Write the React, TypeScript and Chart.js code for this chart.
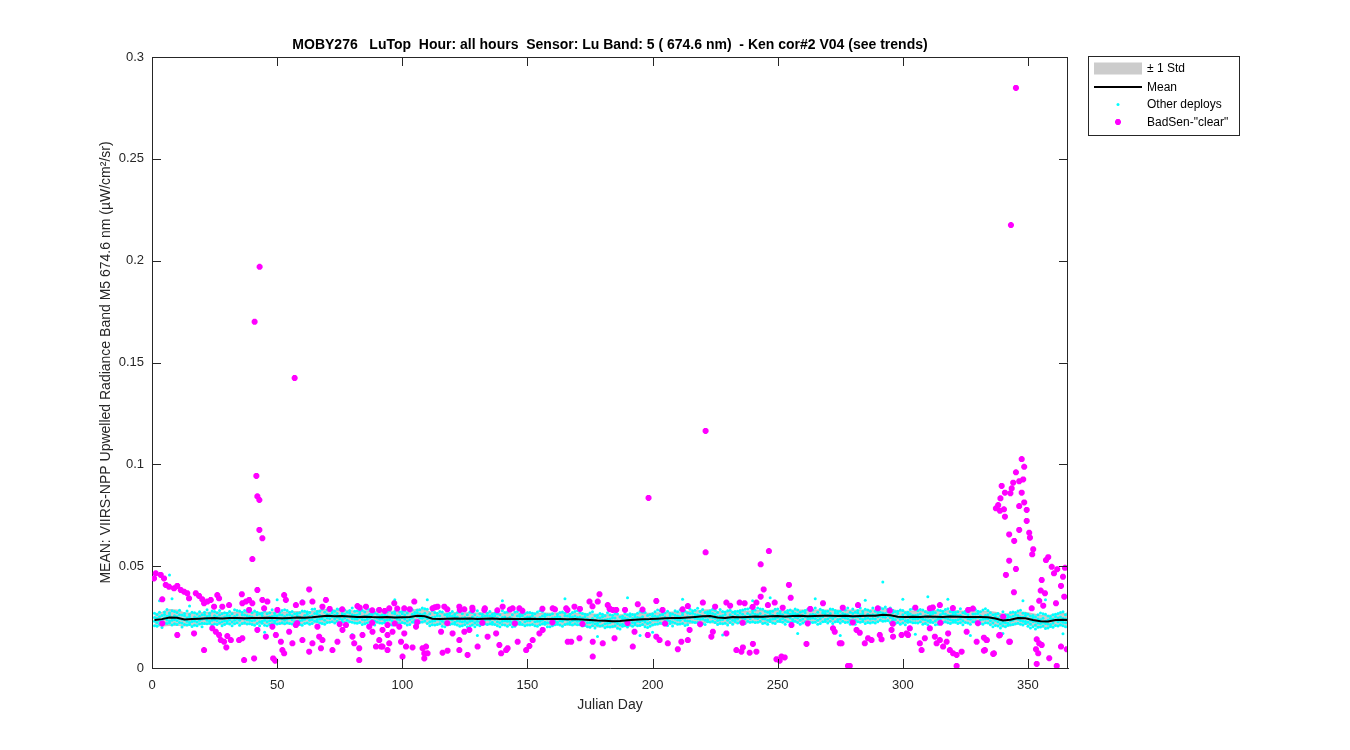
import React, { useEffect, useRef } from "react";
import { Chart, registerables } from "chart.js";

Chart.register(...registerables);

const FONT = '"Liberation Sans", Arial, Helvetica, sans-serif';

const TITLE = "MOBY276   LuTop  Hour: all hours  Sensor: Lu Band: 5 ( 674.6 nm)  - Ken cor#2 V04 (see trends)";
const X_LABEL = "Julian Day";
const Y_LABEL = "MEAN: VIIRS-NPP Upwelled Radiance Band M5 674.6 nm (\u00b5W/cm\u00b2/sr)";
const legendLabels = ["\u00b1 1 Std", "Mean", "Other deploys", 'BadSen-"clear"'];

const xTicks = [0, 50, 100, 150, 200, 250, 300, 350];
const yTicks = [0, 0.05, 0.1, 0.15, 0.2, 0.25, 0.3];
const X_MIN = 0;
const X_MAX = 366;
const Y_MIN = 0;
const Y_MAX = 0.3;

// Mean curve and +/- 1 std
const meanDays = [
  1, 4, 7, 10, 13, 16, 19, 22, 25, 28,
  31, 34, 37, 40, 43, 46, 49, 52, 55, 58,
  61, 64, 67, 70, 73, 76, 79, 82, 85, 88,
  91, 94, 97, 100, 103, 106, 109, 112, 115, 118,
  121, 124, 127, 130, 133, 136, 139, 142, 145, 148,
  151, 154, 157, 160, 163, 166, 169, 172, 175, 178,
  181, 184, 187, 190, 193, 196, 199, 202, 205, 208,
  211, 214, 217, 220, 223, 226, 229, 232, 235, 238,
  241, 244, 247, 250, 253, 256, 259, 262, 265, 268,
  271, 274, 277, 280, 283, 286, 289, 292, 295, 298,
  301, 304, 307, 310, 313, 316, 319, 322, 325, 328,
  331, 334, 337, 340, 343, 346, 349, 352, 355, 358,
  361, 364, 366,
];
const meanVals = [
  .0236, .0240, .0248, .0247, .0238, .0240, .0242, .0244, .0245, .0243,
  .0245, .0246, .0244, .0246, .0245, .0247, .0246, .0244, .0246, .0248,
  .0247, .0249, .0253, .0256, .0254, .0255, .0253, .0251, .0252, .0250,
  .0249, .0250, .0248, .0249, .0250, .0256, .0254, .0242, .0240, .0242,
  .0243, .0242, .0243, .0241, .0242, .0243, .0241, .0242, .0240, .0241,
  .0242, .0240, .0241, .0240, .0241, .0239, .0240, .0238, .0236, .0233,
  .0232, .0229, .0231, .0234, .0237, .0239, .0240, .0242, .0244, .0246,
  .0245, .0248, .0251, .0254, .0255, .0248, .0246, .0250, .0249, .0251,
  .0253, .0252, .0254, .0255, .0253, .0255, .0256, .0254, .0255, .0256,
  .0257, .0255, .0256, .0254, .0255, .0256, .0257, .0262, .0259, .0252,
  .0250, .0252, .0251, .0253, .0252, .0251, .0253, .0252, .0250, .0251,
  .0250, .0249, .0243, .0233, .0237, .0245, .0244, .0236, .0230, .0228,
  .0236, .0237, .0236,
];
const stdVals = [
  .0029, .0033, .0038, .0036, .0031, .0029, .0028, .0028, .0029, .0028,
  .0027, .0028, .0029, .0028, .0028, .0027, .0028, .0028, .0029, .0028,
  .0027, .0028, .0030, .0031, .0029, .0028, .0028, .0027, .0028, .0028,
  .0027, .0028, .0029, .0028, .0029, .0032, .0031, .0028, .0027, .0028,
  .0028, .0027, .0028, .0028, .0029, .0028, .0027, .0028, .0028, .0029,
  .0028, .0027, .0028, .0028, .0029, .0028, .0028, .0029, .0029, .0030,
  .0029, .0030, .0029, .0028, .0028, .0029, .0028, .0028, .0027, .0028,
  .0028, .0029, .0028, .0029, .0030, .0029, .0028, .0028, .0029, .0028,
  .0028, .0029, .0028, .0028, .0027, .0028, .0028, .0029, .0028, .0028,
  .0027, .0028, .0028, .0029, .0028, .0028, .0029, .0030, .0029, .0028,
  .0028, .0027, .0028, .0028, .0029, .0028, .0028, .0028, .0027, .0028,
  .0028, .0029, .0029, .0030, .0029, .0029, .0028, .0029, .0028, .0029,
  .0028, .0029, .0029,
];

// "Other deploys": values seen at each Julian day, first row = day 1
const otherFirstDay = 1;
const otherDeploysByDay: number[][] = [
  [.0269,.0248,.0229,.0208],[.0263,.0243,.0224,.0205],[.0274,.0252,.0233,.0214],[.0258,.0237,.0219,.0199],
  [.0275,.0263,.0245,.0220],[.0287,.0254,.0236,.0218],[.0270,.0259,.0231,.0221],[.0281,.0247,.0235,.0211],
  [.0278,.0257,.0238,.0217],[.0272,.0252,.0233,.0214],[.0283,.0261,.0242,.0223],
  [.0260,.0239,.0221,.0201],[.0268,.0256,.0238,.0213],[.0280,.0247,.0229,.0211],[.0263,.0252,.0224,.0214],
  [.0274,.0240,.0228,.0204],[.0271,.0250,.0231,.0210],[.0265,.0245,.0226,.0207],[.0276,.0254,.0235,.0216],
  [.0262,.0241,.0220,.0202],
  [.0274,.0262,.0244,.0219],[.0286,.0253,.0235,.0217],[.0269,.0258,.0230,.0220],[.0280,.0246,.0234,.0210],
  [.0277,.0256,.0237,.0216],[.0271,.0251,.0232,.0213],[.0282,.0260,.0241,.0222],[.0266,.0245,.0227,.0207],
  [.0271,.0251,.0232,.0213],[.0269,.0258,.0230,.0220],[.0277,.0256,.0237,.0216],[.0266,.0245,.0227,.0207],
  [.0286,.0253,.0235,.0217],[.0282,.0260,.0241,.0222],[.0280,.0246,.0234,.0210],[.0274,.0262,.0244,.0219],
  [.0282,.0260,.0241,.0222],[.0277,.0256,.0237,.0216],[.0286,.0253,.0235,.0217],[.0271,.0251,.0232,.0213],
  [.0280,.0246,.0234,.0210],[.0274,.0262,.0244,.0219],[.0266,.0245,.0227,.0207],[.0269,.0258,.0230,.0220],
  [.0280,.0246,.0234,.0210],[.0266,.0245,.0227,.0207],[.0271,.0251,.0232,.0213],[.0286,.0253,.0235,.0217],
  [.0269,.0258,.0230,.0220],[.0277,.0256,.0237,.0216],[.0274,.0262,.0244,.0219],[.0282,.0260,.0241,.0222],
  [.0286,.0253,.0235,.0217],[.0282,.0260,.0241,.0222],[.0274,.0262,.0244,.0219],[.0277,.0256,.0237,.0216],
  [.0266,.0245,.0227,.0207],[.0269,.0258,.0230,.0220],[.0271,.0251,.0232,.0213],[.0280,.0246,.0234,.0210],
  [.0279,.0258,.0239,.0218],[.0276,.0264,.0246,.0221],[.0273,.0253,.0234,.0215],[.0288,.0255,.0237,.0219],
  [.0290,.0268,.0249,.0230],[.0277,.0266,.0238,.0228],[.0279,.0259,.0240,.0221],[.0288,.0254,.0242,.0218],
  [.0274,.0253,.0235,.0215],[.0285,.0264,.0245,.0224],[.0294,.0261,.0243,.0225],[.0282,.0270,.0252,.0227],
  [.0279,.0259,.0240,.0221],[.0290,.0268,.0249,.0230],[.0288,.0254,.0242,.0218],[.0277,.0266,.0238,.0228],
  [.0285,.0264,.0245,.0224],[.0274,.0253,.0235,.0215],[.0282,.0270,.0252,.0227],[.0294,.0261,.0243,.0225],
  [.0279,.0259,.0240,.0221],
  [.0281,.0260,.0241,.0220],[.0278,.0266,.0248,.0223],[.0284,.0250,.0238,.0214],[.0275,.0255,.0236,.0217],
  [.0290,.0257,.0239,.0221],[.0286,.0264,.0245,.0226],[.0273,.0262,.0234,.0224],[.0270,.0249,.0231,.0211],
  [.0286,.0264,.0245,.0226],[.0290,.0257,.0239,.0221],[.0281,.0260,.0241,.0220],[.0273,.0262,.0234,.0224],
  [.0275,.0255,.0236,.0217],[.0284,.0250,.0238,.0214],[.0270,.0249,.0231,.0211],[.0278,.0266,.0248,.0223],
  [.0290,.0257,.0239,.0221],[.0275,.0255,.0236,.0217],[.0278,.0266,.0248,.0223],[.0281,.0260,.0241,.0220],
  [.0270,.0249,.0231,.0211],[.0284,.0250,.0238,.0214],[.0286,.0264,.0245,.0226],[.0273,.0262,.0234,.0224],
  [.0283,.0271,.0253,.0228],[.0286,.0265,.0246,.0225],[.0295,.0262,.0244,.0226],[.0291,.0269,.0250,.0231],
  [.0289,.0255,.0243,.0219],
  [.0266,.0246,.0227,.0208],[.0281,.0248,.0230,.0212],[.0272,.0251,.0232,.0211],[.0269,.0257,.0239,.0214],
  [.0277,.0255,.0236,.0217],[.0275,.0241,.0229,.0205],[.0261,.0240,.0222,.0202],[.0264,.0253,.0225,.0215],
  [.0269,.0257,.0239,.0214],[.0277,.0255,.0236,.0217],[.0264,.0253,.0225,.0215],[.0272,.0251,.0232,.0211],
  [.0275,.0241,.0229,.0205],[.0266,.0246,.0227,.0208],[.0281,.0248,.0230,.0212],[.0261,.0240,.0222,.0202],
  [.0275,.0241,.0229,.0205],[.0272,.0251,.0232,.0211],[.0261,.0240,.0222,.0202],[.0281,.0248,.0230,.0212],
  [.0266,.0246,.0227,.0208],[.0264,.0253,.0225,.0215],[.0277,.0255,.0236,.0217],[.0269,.0257,.0239,.0214],
  [.0277,.0255,.0236,.0217],[.0264,.0253,.0225,.0215],[.0269,.0257,.0239,.0214],[.0266,.0246,.0227,.0208],
  [.0261,.0240,.0222,.0202],[.0281,.0248,.0230,.0212],[.0272,.0251,.0232,.0211],[.0275,.0241,.0229,.0205],
  [.0281,.0248,.0230,.0212],[.0261,.0240,.0222,.0202],[.0275,.0241,.0229,.0205],[.0277,.0255,.0236,.0217],
  [.0264,.0253,.0225,.0215],[.0269,.0257,.0239,.0214],[.0266,.0246,.0227,.0208],[.0272,.0251,.0232,.0211],
  [.0272,.0251,.0232,.0211],[.0269,.0257,.0239,.0214],[.0266,.0246,.0227,.0208],[.0275,.0241,.0229,.0205],
  [.0281,.0248,.0230,.0212],[.0277,.0255,.0236,.0217],[.0264,.0253,.0225,.0215],[.0261,.0240,.0222,.0202],
  [.0261,.0240,.0222,.0202],[.0266,.0246,.0227,.0208],[.0281,.0248,.0230,.0212],[.0264,.0253,.0225,.0215],
  [.0272,.0251,.0232,.0211],[.0275,.0241,.0229,.0205],[.0269,.0257,.0239,.0214],[.0277,.0255,.0236,.0217],
  [.0264,.0253,.0225,.0215],[.0272,.0251,.0232,.0211],[.0277,.0255,.0236,.0217],[.0281,.0248,.0230,.0212],
  [.0272,.0250,.0231,.0212],[.0267,.0246,.0227,.0206],[.0264,.0252,.0234,.0209],[.0261,.0241,.0222,.0203],
  [.0270,.0236,.0224,.0200],[.0276,.0243,.0225,.0207],[.0256,.0235,.0217,.0197],[.0259,.0248,.0220,.0210],
  [.0267,.0246,.0227,.0206],[.0264,.0252,.0234,.0209],
  [.0256,.0236,.0217,.0198],[.0271,.0238,.0220,.0202],[.0262,.0241,.0222,.0201],[.0259,.0247,.0229,.0204],
  [.0267,.0245,.0226,.0207],[.0265,.0231,.0219,.0195],[.0251,.0230,.0212,.0192],[.0254,.0243,.0215,.0205],
  [.0267,.0245,.0226,.0207],[.0262,.0241,.0222,.0201],
  [.0266,.0254,.0236,.0211],[.0263,.0243,.0224,.0205],[.0261,.0250,.0222,.0212],[.0269,.0248,.0229,.0208],
  [.0278,.0245,.0227,.0209],[.0274,.0252,.0233,.0214],[.0272,.0238,.0226,.0202],[.0258,.0237,.0219,.0199],
  [.0263,.0243,.0224,.0205],[.0266,.0254,.0236,.0211],
  [.0276,.0255,.0236,.0215],[.0285,.0252,.0234,.0216],[.0281,.0259,.0240,.0221],[.0273,.0261,.0243,.0218],
  [.0270,.0250,.0231,.0212],[.0279,.0245,.0233,.0209],[.0268,.0257,.0229,.0219],[.0265,.0244,.0226,.0206],
  [.0281,.0259,.0240,.0221],[.0276,.0255,.0236,.0215],[.0285,.0252,.0234,.0216],[.0273,.0261,.0243,.0218],
  [.0279,.0245,.0233,.0209],[.0270,.0250,.0231,.0212],
  [.0289,.0267,.0248,.0229],[.0281,.0269,.0251,.0226],[.0284,.0263,.0244,.0223],[.0293,.0260,.0242,.0224],
  [.0278,.0258,.0239,.0220],[.0287,.0253,.0241,.0217],[.0273,.0252,.0234,.0214],[.0276,.0265,.0237,.0227],
  [.0281,.0269,.0251,.0226],[.0289,.0267,.0248,.0229],[.0284,.0263,.0244,.0223],
  [.0272,.0252,.0233,.0214],[.0287,.0254,.0236,.0218],[.0278,.0257,.0238,.0217],[.0275,.0263,.0245,.0220],
  [.0281,.0247,.0235,.0211],[.0283,.0261,.0242,.0223],
  [.0274,.0253,.0235,.0215],[.0277,.0266,.0238,.0228],[.0279,.0259,.0240,.0221],[.0282,.0270,.0252,.0227],
  [.0285,.0264,.0245,.0224],[.0288,.0254,.0242,.0218],[.0290,.0268,.0249,.0230],[.0294,.0261,.0243,.0225],
  [.0282,.0270,.0252,.0227],[.0285,.0264,.0245,.0224],[.0294,.0261,.0243,.0225],[.0290,.0268,.0249,.0230],
  [.0288,.0254,.0242,.0218],[.0279,.0259,.0240,.0221],[.0274,.0253,.0235,.0215],[.0277,.0266,.0238,.0228],
  [.0279,.0259,.0240,.0221],[.0288,.0254,.0242,.0218],[.0290,.0268,.0249,.0230],[.0277,.0266,.0238,.0228],
  [.0294,.0261,.0243,.0225],[.0274,.0253,.0235,.0215],[.0282,.0270,.0252,.0227],[.0285,.0264,.0245,.0224],
  [.0277,.0266,.0238,.0228],[.0290,.0268,.0249,.0230],[.0285,.0264,.0245,.0224],[.0274,.0253,.0235,.0215],
  [.0279,.0259,.0240,.0221],[.0282,.0270,.0252,.0227],[.0288,.0254,.0242,.0218],[.0294,.0261,.0243,.0225],
  [.0285,.0264,.0245,.0224],[.0294,.0261,.0243,.0225],[.0274,.0253,.0235,.0215],[.0288,.0254,.0242,.0218],
  [.0282,.0270,.0252,.0227],[.0277,.0266,.0238,.0228],[.0279,.0259,.0240,.0221],[.0290,.0268,.0249,.0230],
  [.0288,.0254,.0242,.0218],[.0282,.0270,.0252,.0227],[.0277,.0266,.0238,.0228],[.0279,.0259,.0240,.0221],
  [.0290,.0268,.0249,.0230],[.0285,.0264,.0245,.0224],[.0294,.0261,.0243,.0225],[.0274,.0253,.0235,.0215],
  [.0290,.0268,.0249,.0230],[.0274,.0253,.0235,.0215],[.0282,.0270,.0252,.0227],[.0294,.0261,.0243,.0225],
  [.0277,.0266,.0238,.0228],[.0288,.0254,.0242,.0218],[.0285,.0264,.0245,.0224],[.0279,.0259,.0240,.0221],
  [.0294,.0261,.0243,.0225],[.0279,.0259,.0240,.0221],[.0282,.0270,.0252,.0227],
  [.0296,.0274,.0255,.0236],[.0291,.0270,.0251,.0230],[.0300,.0267,.0249,.0231],[.0288,.0276,.0258,.0233],
  [.0294,.0260,.0248,.0224],[.0283,.0272,.0244,.0234],
  [.0276,.0256,.0237,.0218],[.0279,.0267,.0249,.0224],[.0285,.0251,.0239,.0215],[.0282,.0261,.0242,.0221],
  [.0271,.0250,.0232,.0212],[.0274,.0263,.0235,.0225],[.0287,.0265,.0246,.0227],[.0291,.0258,.0240,.0222],
  [.0291,.0258,.0240,.0222],[.0282,.0261,.0242,.0221],[.0287,.0265,.0246,.0227],[.0285,.0251,.0239,.0215],
  [.0276,.0256,.0237,.0218],[.0271,.0250,.0232,.0212],[.0274,.0263,.0235,.0225],[.0279,.0267,.0249,.0224],
  [.0271,.0250,.0232,.0212],[.0285,.0251,.0239,.0215],[.0282,.0261,.0242,.0221],[.0279,.0267,.0249,.0224],
  [.0287,.0265,.0246,.0227],[.0291,.0258,.0240,.0222],[.0276,.0256,.0237,.0218],[.0274,.0263,.0235,.0225],
  [.0274,.0263,.0235,.0225],[.0276,.0256,.0237,.0218],[.0291,.0258,.0240,.0222],[.0271,.0250,.0232,.0212],
  [.0279,.0267,.0249,.0224],[.0282,.0261,.0242,.0221],[.0285,.0251,.0239,.0215],[.0287,.0265,.0246,.0227],
  [.0287,.0265,.0246,.0227],[.0279,.0267,.0249,.0224],[.0276,.0256,.0237,.0218],[.0285,.0251,.0239,.0215],
  [.0291,.0258,.0240,.0222],[.0282,.0261,.0242,.0221],[.0271,.0250,.0232,.0212],
  [.0261,.0241,.0222,.0203],[.0264,.0252,.0234,.0209],[.0267,.0246,.0227,.0206],[.0256,.0235,.0217,.0197],
  [.0276,.0243,.0225,.0207],[.0261,.0241,.0222,.0203],[.0259,.0248,.0220,.0210],[.0272,.0250,.0231,.0212],
  [.0275,.0254,.0235,.0214],[.0272,.0260,.0242,.0217],[.0280,.0258,.0239,.0220],[.0284,.0251,.0233,.0215],
  [.0269,.0249,.0230,.0211],[.0267,.0256,.0228,.0218],[.0264,.0243,.0225,.0205],
  [.0255,.0235,.0216,.0197],[.0258,.0246,.0228,.0203],[.0250,.0229,.0211,.0191],[.0261,.0240,.0221,.0200],
  [.0270,.0237,.0219,.0201],[.0266,.0244,.0225,.0206],[.0264,.0230,.0218,.0194],[.0255,.0235,.0216,.0197],
  [.0253,.0242,.0214,.0204],[.0261,.0240,.0221,.0200],
  [.0264,.0252,.0234,.0209],[.0267,.0246,.0227,.0206],[.0272,.0250,.0231,.0212],[.0276,.0243,.0225,.0207],
  [.0261,.0241,.0222,.0203],[.0270,.0236,.0224,.0200],
];

// Scattered "Other deploys" values outside the main band: [day, value]
const otherOutliers: [number, number][] = [
  [7, .0457], [8, .0340], [3, .0330], [15, .0305], [10, .0165], [30, .0160], [45, .0175],
  [50, .0335], [60, .0330], [80, .0165], [97, .0335], [110, .0335], [120, .0170], [130, .0160],
  [140, .0330], [155, .0168], [165, .0340], [178, .0155], [190, .0345], [195, .0160], [200, .0175],
  [212, .0338], [228, .0162], [240, .0330], [247, .0345], [258, .0170], [265, .0340], [275, .0160],
  [285, .0333], [292, .0422], [300, .0338], [305, .0166], [310, .0350], [318, .0338], [327, .0160],
  [340, .0170], [348, .0330], [357, .0335], [364, .0168],
];

// BadSen-"clear": [day, value]
const badSenClear: [number, number][] = [
  // high outliers
  [43, .197], [41, .170], [57, .1424], [41.7, .0943], [42.1, .0843], [42.9, .0825], [42.9, .0678],
  [44.1, .0637], [40.1, .0535], [198.4, .0835], [221.2, .1164], [221.2, .0568], [246.5, .0574],
  [243.2, .0509], [254.5, .0408], [244.4, .0386], [243.2, .0350], [255.2, .0345],
  [345.2, .2848], [343.2, .2175],
  // days 0-95 above band
  [1.5, .0465], [3.5, .0457], [4.8, .0440], [0.8, .0440], [5.5, .0408], [6.8, .0399], [8.8, .0391],
  [10.1, .0403], [11.5, .0383], [12.8, .0375], [14.1, .0367], [14.8, .0342], [17.5, .0367], [18.8, .0354],
  [20.1, .0337], [20.8, .0318], [22.1, .0326], [23.5, .0334], [26.1, .0358], [26.8, .0342], [24.8, .0301],
  [28.1, .0301], [30.8, .0309], [35.9, .0362], [36.1, .0318], [37.5, .0326], [38.8, .0334], [40.1, .0318],
  [42.1, .0383], [38.8, .0285], [44.1, .0334], [46.1, .0326], [44.8, .0293], [50.1, .0285], [52.8, .0358],
  [53.5, .0334], [57.5, .0309], [60.1, .0321], [62.8, .0386], [64.1, .0326], [69.5, .0334], [68.1, .0301],
  [4.1, .0337], [82.1, .0304], [85.5, .0301], [90.8, .0285],
  // days 0-95 below band
  [4.1, .0219], [10.1, .0162], [16.8, .0170], [24.1, .0195], [25.5, .0178], [26.8, .0162], [27.5, .0137],
  [28.8, .0129], [29.7, .0101], [30.1, .0157], [31.5, .0137], [34.8, .0137], [36.1, .0146], [20.8, .0088],
  [36.8, .0039], [40.8, .0047], [48.4, .0047], [49.2, .0036], [42.1, .0187], [45.5, .0154], [48.1, .0203],
  [49.5, .0162], [51.5, .0129], [52.1, .0088], [52.8, .0072], [54.8, .0178], [56.1, .0121], [57.5, .0211],
  [60.1, .0137], [62.8, .0080], [64.1, .0121], [66.1, .0203], [66.8, .0154], [67.5, .0097], [68.1, .0137],
  [72.1, .0088], [74.1, .0129], [76.1, .0187], [77.5, .0211], [80.1, .0154], [80.8, .0121], [82.8, .0097],
  [82.8, .0039], [84.1, .0162], [86.8, .0203], [88.1, .0178], [89.5, .0105], [90.8, .0137], [92.1, .0105],
  [94.1, .0211],
  // days 90-185
  [96.8, .0318], [94.8, .0293], [100.8, .0293], [104.8, .0326], [112.1, .0293], [114.1, .0301],
  [116.8, .0301], [122.8, .0301], [124.8, .0288], [128.1, .0285], [132.8, .0285], [140.1, .0301],
  [144.1, .0293], [146.8, .0293], [160.1, .0293], [165.5, .0293], [168.8, .0301], [174.8, .0326],
  [178.8, .0362], [178.1, .0326], [182.1, .0309], [184.1, .0285],
  [92.1, .0187], [94.1, .0162], [94.8, .0121], [96.1, .0178], [91.5, .0105], [94.1, .0088], [98.8, .0203],
  [100.8, .0170], [99.5, .0129], [100.1, .0056], [101.5, .0105], [104.1, .0101], [105.5, .0203],
  [108.1, .0097], [108.8, .0072], [109.5, .0105], [108.8, .0047], [110.1, .0072], [115.5, .0178],
  [116.1, .0075], [118.1, .0085], [120.1, .0170], [122.8, .0137], [122.8, .0088], [124.8, .0178],
  [126.1, .0064], [126.8, .0187], [130.1, .0105], [134.1, .0154], [137.5, .0170], [138.8, .0113],
  [139.5, .0072], [141.5, .0088], [142.1, .0097], [146.1, .0129], [149.5, .0088], [150.8, .0108],
  [152.1, .0137], [154.8, .0170], [156.1, .0187], [166.1, .0129], [167.5, .0129], [170.8, .0146],
  [176.1, .0056], [176.1, .0129], [180.1, .0121], [184.8, .0146],
  // days 180-280
  [194.1, .0313], [201.5, .0329], [214.1, .0304], [220.1, .0321], [229.5, .0321], [234.8, .0321],
  [236.8, .0318], [241.5, .0321], [246.1, .0309], [248.8, .0321], [268.1, .0318], [182.8, .0293],
  [185.5, .0285],
  [192.1, .0105], [192.8, .0178], [198.1, .0162], [201.5, .0154], [202.8, .0137], [206.1, .0121],
  [210.1, .0092], [211.5, .0129], [214.1, .0137], [214.8, .0187], [223.5, .0154], [224.1, .0178],
  [229.5, .0170], [233.5, .0088], [236.1, .0101], [235.5, .0080], [238.8, .0075], [240.1, .0118],
  [241.5, .0080], [249.5, .0043], [251.5, .0056], [252.8, .0052], [250.8, .0036], [255.5, .0211],
  [261.5, .0118], [272.1, .0195], [272.8, .0178], [274.8, .0121], [278.1, .0010],
  // days 275-345
  [282.1, .0309], [294.8, .0282], [310.8, .0293], [314.8, .0309], [326.1, .0285],
  [275.5, .0121], [281.5, .0187], [282.8, .0173], [284.8, .0121], [286.1, .0146], [287.5, .0137],
  [290.8, .0162], [291.5, .0141], [295.5, .0187], [296.1, .0154], [299.5, .0162], [301.5, .0170],
  [302.8, .0195], [302.1, .0162], [306.8, .0121], [307.5, .0088], [308.8, .0146], [310.8, .0195],
  [312.8, .0154], [313.5, .0121], [314.8, .0137], [316.1, .0105], [317.5, .0129], [318.1, .0170],
  [318.8, .0088], [320.1, .0072], [321.5, .0064], [323.5, .0080], [321.5, .0010], [325.5, .0178],
  [329.5, .0129], [333.5, .0137], [332.8, .0088], [336.1, .0069], [338.8, .0162], [342.8, .0129],
  [278.8, .0010],
  // end-of-year cluster
  [347.5, .1026], [348.5, .0988], [345.2, .0961], [348.1, .0926], [346.5, .0917], [344.1, .0910],
  [339.5, .0894], [343.5, .0882], [340.8, .0861], [347.5, .0861], [343.0, .0858], [339.0, .0833],
  [348.5, .0813], [338.1, .0800], [346.5, .0795], [337.2, .0784], [340.4, .0779], [349.5, .0776],
  [338.8, .0772], [340.8, .0743], [349.5, .0722], [346.5, .0678], [342.5, .0656], [350.5, .0664],
  [350.8, .0640], [344.5, .0624], [352.1, .0583], [351.7, .0558], [342.5, .0527], [358.1, .0544],
  [357.2, .0530], [345.2, .0486], [341.2, .0457], [359.5, .0497], [361.7, .0485], [364.8, .0492],
  [360.4, .0465], [364.0, .0448], [363.2, .0403], [355.5, .0432], [344.4, .0372], [356.8, .0367],
  [355.1, .0380], [364.5, .0350], [354.5, .0330], [356.1, .0306], [361.2, .0318], [351.5, .0293],
  [332.4, .0149], [333.5, .0137], [338.5, .0160], [342.5, .0129], [353.5, .0141], [354.5, .0121],
  [355.5, .0113], [353.2, .0092], [354.1, .0072], [363.2, .0105], [365.5, .0092], [332.4, .0085],
  [336.4, .0072], [358.5, .0048], [353.5, .0020], [361.5, .0010], [340.1, .0252],
  // near the band
  [71, .0290], [76, .0288], [83, .0296], [88, .0283], [93, .0280], [98, .0292], [103, .0289],
  [113, .0298], [118, .0288], [123, .0285], [128, .0296], [133, .0293], [138, .0283], [143, .0287],
  [148, .0281], [156, .0291], [161, .0288], [166, .0285], [171, .0290], [176, .0303], [183, .0288],
  [189, .0285], [196, .0287], [204, .0285], [212, .0288], [225, .0301], [231, .0306], [240, .0300],
  [252, .0296], [263, .0290], [276, .0296], [290, .0293], [305, .0296], [312, .0297], [320, .0294],
  [328, .0292],
  [58, .0220], [75, .0215], [88, .0222], [97, .0218], [106, .0225], [118, .0220], [132, .0222],
  [145, .0219], [160, .0224], [172, .0216], [190, .0221], [205, .0218], [219, .0215], [236, .0222],
  [262, .0219], [280, .0224], [296, .0217], [315, .0222], [330, .0220],
];

const AXIS_COLOR = "#262626";
const STD_FILL = "#cccccc";
const CYAN = "#00ffff";
const MAGENTA = "#ff00ff";

function drawStarMark(ctx: CanvasRenderingContext2D, cx: number, cy: number, r: number) {
  const angles = [0, Math.PI / 4, Math.PI / 2, (3 * Math.PI) / 4];
  ctx.beginPath();
  for (const a of angles) {
    ctx.moveTo(cx - r * Math.cos(a), cy - r * Math.sin(a));
    ctx.lineTo(cx + r * Math.cos(a), cy + r * Math.sin(a));
  }
  ctx.stroke();
}

const boxPlugin = {
  id: "matlabBox",
  afterDraw(chart: any) {
    const { ctx, chartArea: a, scales } = chart;
    const xs = scales.x;
    const ys = scales.y;
    ctx.save();
    ctx.strokeStyle = AXIS_COLOR;
    ctx.lineWidth = 1;
    ctx.beginPath();
    ctx.moveTo(a.left, a.top + 0.5);
    ctx.lineTo(a.right, a.top + 0.5);
    ctx.moveTo(a.right - 0.5, a.top);
    ctx.lineTo(a.right - 0.5, a.bottom);
    const TL = 9;
    for (const v of xTicks) {
      const px = Math.round(xs.getPixelForValue(v)) + 0.5;
      ctx.moveTo(px, a.bottom);
      ctx.lineTo(px, a.bottom - TL);
      ctx.moveTo(px, a.top);
      ctx.lineTo(px, a.top + TL);
    }
    for (const v of yTicks) {
      const py = Math.round(ys.getPixelForValue(v)) + 0.5;
      ctx.moveTo(a.left, py);
      ctx.lineTo(a.left + TL, py);
      ctx.moveTo(a.right, py);
      ctx.lineTo(a.right - TL, py);
    }
    ctx.stroke();

    // Legend
    const lx = a.right + 20;
    const ly = a.top - 1;
    const lw = 151;
    const lh = 79;
    ctx.fillStyle = "#ffffff";
    ctx.fillRect(lx, ly, lw, lh);
    ctx.strokeStyle = AXIS_COLOR;
    ctx.lineWidth = 1;
    ctx.strokeRect(lx + 0.5, ly + 0.5, lw, lh);
    const rows = [ly + 12.5, ly + 31, ly + 48.5, ly + 66];
    const sx0 = lx + 6;
    const sx1 = lx + 54;
    const smid = (sx0 + sx1) / 2;
    ctx.fillStyle = STD_FILL;
    ctx.fillRect(sx0, rows[0] - 6, sx1 - sx0, 12);
    ctx.strokeStyle = "#000000";
    ctx.lineWidth = 2;
    ctx.beginPath();
    ctx.moveTo(sx0, rows[1]);
    ctx.lineTo(sx1, rows[1]);
    ctx.stroke();
    ctx.fillStyle = CYAN;
    ctx.beginPath();
    ctx.arc(smid, rows[2], 1.5, 0, Math.PI * 2);
    ctx.fill();
    ctx.strokeStyle = MAGENTA;
    ctx.lineWidth = 2.2;
    drawStarMark(ctx, smid, rows[3], 3);
    ctx.fillStyle = "#000000";
    ctx.font = `12px ${FONT}`;
    ctx.textBaseline = "middle";
    ctx.textAlign = "left";
    legendLabels.forEach((t, i) => ctx.fillText(t, lx + 59, rows[i] + 0.5));
    ctx.restore();
  },
};

export default function App() {
  const canvasRef = useRef<HTMLCanvasElement | null>(null);

  useEffect(() => {
    const canvas = canvasRef.current;
    if (!canvas) return;

    const meanData = meanDays.map((d, i) => ({ x: d, y: meanVals[i] }));
    const upperData = meanDays.map((d, i) => ({ x: d, y: meanVals[i] + stdVals[i] }));
    const lowerData = meanDays.map((d, i) => ({ x: d, y: meanVals[i] - stdVals[i] }));
    const otherData: { x: number; y: number }[] = [];
    otherDeploysByDay.forEach((vals, i) => {
      vals.forEach((v) => otherData.push({ x: otherFirstDay + i, y: v }));
    });
    otherOutliers.forEach(([x, y]) => otherData.push({ x, y }));
    const badData = badSenClear.map(([x, y]) => ({ x, y }));

    const chart = new Chart(canvas, {
      type: "scatter",
      data: {
        datasets: [
          {
            type: "line",
            label: "Mean",
            data: meanData,
            borderColor: "#000000",
            borderWidth: 2,
            pointRadius: 0,
            tension: 0,
            fill: false,
            order: 0,
          } as any,
          {
            label: 'BadSen-"clear"',
            data: badData,
            pointStyle: "star",
            pointRadius: 3,
            borderWidth: 2.2,
            borderColor: MAGENTA,
            backgroundColor: MAGENTA,
            order: 1,
          },
          {
            label: "Other deploys",
            data: otherData,
            pointStyle: "circle",
            pointRadius: 1.5,
            borderWidth: 0,
            backgroundColor: CYAN,
            order: 2,
          },
          {
            type: "line",
            label: "+1 Std",
            data: upperData,
            borderColor: "#c4c4c4",
            borderWidth: 1.5,
            pointRadius: 0,
            tension: 0,
            backgroundColor: STD_FILL,
            fill: 4,
            order: 3,
          } as any,
          {
            type: "line",
            label: "-1 Std",
            data: lowerData,
            borderColor: "#c4c4c4",
            borderWidth: 1.5,
            pointRadius: 0,
            tension: 0,
            fill: false,
            order: 4,
          } as any,
        ],
      },
      options: {
        animation: false,
        responsive: false,
        devicePixelRatio: 1,
        events: [],
        layout: { padding: { left: 0, right: 282, top: 0, bottom: 0 } },
        plugins: {
          legend: { display: false },
          tooltip: { enabled: false },
          title: {
            display: true,
            text: TITLE,
            fullSize: false,
            color: "#000000",
            font: { family: FONT, size: 14, weight: "bold" },
            padding: { top: 36.6, bottom: 3.6 },
          },
        },
        scales: {
          x: {
            type: "linear",
            position: "bottom",
            min: X_MIN,
            max: X_MAX,
            afterBuildTicks: (s: any) => {
              s.ticks = xTicks.map((v) => ({ value: v }));
            },
            afterFit: (s: any) => {
              s.height = 82;
            },
            grid: { display: false, drawTicks: false },
            border: { display: true, color: AXIS_COLOR, width: 1 },
            ticks: {
              padding: 10,
              color: AXIS_COLOR,
              font: { family: FONT, size: 13 },
              maxRotation: 0,
              autoSkip: false,
              callback: (v: any) => String(v),
            },
            title: {
              display: true,
              text: X_LABEL,
              color: AXIS_COLOR,
              font: { family: FONT, size: 14 },
              padding: { top: 0, bottom: 36.8 },
            },
          },
          y: {
            type: "linear",
            position: "left",
            min: Y_MIN,
            max: Y_MAX,
            afterBuildTicks: (s: any) => {
              s.ticks = yTicks.map((v) => ({ value: v }));
            },
            afterFit: (s: any) => {
              s.width = 152;
            },
            grid: { display: false, drawTicks: false },
            border: { display: true, color: AXIS_COLOR, width: 1 },
            ticks: {
              padding: 8,
              color: AXIS_COLOR,
              font: { family: FONT, size: 13 },
              autoSkip: false,
              callback: (v: any) => String(Number(Number(v).toFixed(2))),
            },
            title: {
              display: true,
              text: Y_LABEL,
              color: AXIS_COLOR,
              font: { family: FONT, size: 14 },
              padding: { top: 97.8, bottom: 0 },
            },
          },
        },
      },
      plugins: [boxPlugin],
    } as any);

    return () => chart.destroy();
  }, []);

  return (
    <div style={{ position: "fixed", left: 0, top: 0, width: 1350, height: 750, background: "#ffffff" }}>
      <canvas ref={canvasRef} width={1350} height={750} style={{ display: "block", width: 1350, height: 750 }} />
    </div>
  );
}
